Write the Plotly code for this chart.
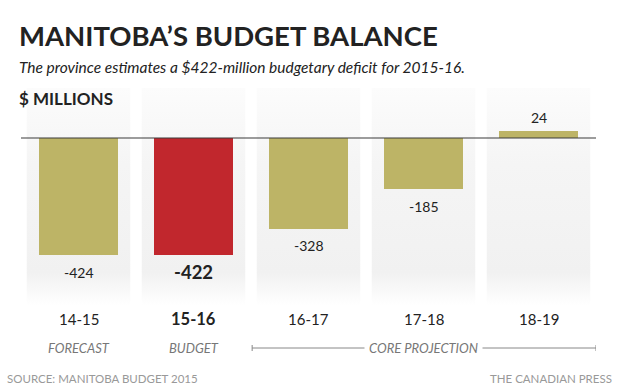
import plotly.graph_objects as go

categories = ["14-15", "15-16", "16-17", "17-18", "18-19"]
values = [-424, -422, -328, -185, 24]
phases = ["FORECAST", "BUDGET"]
projection_label = "CORE PROJECTION"
highlight = 1  # index of budget year

OLIVE = "#bdb466"
RED = "#c1272d"
FONT = "Lato"

W, H = 620, 388
ML, MR, MT, MB = 21, 24, 88, 78
PW, PH = W - ML - MR, H - MT - MB
SCALE = 0.277  # px per $M
y_top = (138 - MT) / SCALE
y_bot = -(MT + PH - 138) / SCALE

def py(px):
    return (MT + PH - px) / PH

def px_x(px):
    return (px - ML) / PW

fig = go.Figure()

# background column panels with vertical gradient
xs, ys = [], []
panel_bottom = -(305 - 138) / SCALE
for i in range(len(categories)):
    xs += [i - 0.45, i + 0.45, i + 0.45, i - 0.45, i - 0.45, None]
    ys += [y_top, y_top, panel_bottom, panel_bottom, y_top, None]
fig.add_trace(go.Scatter(
    x=xs, y=ys, mode="lines", fill="toself", line=dict(width=0),
    fillgradient=dict(type="vertical", start=y_top, stop=panel_bottom,
                      colorscale=[[0, "#fcfcfc"], [0.35, "#f5f5f5"], [0.85, "#f1f1f1"], [1, "#ffffff"]]),
    hoverinfo="skip", showlegend=False))

colors = [RED if i == highlight else OLIVE for i in range(len(values))]
fig.add_trace(go.Bar(x=list(range(len(values))), y=values, width=0.68,
                     xaxis="x2", yaxis="y2",
                     marker=dict(color=colors, line=dict(width=0)),
                     hoverinfo="skip", showlegend=False))

# zero line
fig.add_shape(type="line", xref="x", yref="y", x0=-0.5, x1=len(categories) - 0.5,
              y0=0, y1=0, line=dict(color="#3a3a3a", width=1.2))

ann = []
for i, v in enumerate(values):
    bold = i == highlight
    txt = f"<b>{v}</b>" if bold else f"{v}"
    ann.append(dict(x=i, y=v, xref="x", yref="y", text=txt, showarrow=False,
                    yanchor="middle", yshift=(-17 if v < 0 else 14),
                    font=dict(family=FONT, size=18.5 if bold else 14, color="#222")))
for i, c in enumerate(categories):
    bold = i == highlight
    ann.append(dict(x=i, y=py(319), xref="x", yref="paper",
                    text=f"<b>{c}</b>" if bold else c, showarrow=False, yanchor="middle",
                    font=dict(family=FONT, size=16.5 if bold else 15, color="#222")))
for i, p in enumerate(phases):
    ann.append(dict(x=i, y=py(348), xref="x", yref="paper", text=f"<i>{p}</i>",
                    showarrow=False, yanchor="middle",
                    font=dict(family=FONT, size=13, color="#777")))
# core projection bracket
x0b, x1b = 1.51, 4.5
fig.add_shape(type="line", xref="x", yref="paper", x0=x0b, x1=x1b, y0=py(348), y1=py(348),
              line=dict(color="#888", width=1))
for xb in (x0b, x1b):
    fig.add_shape(type="line", xref="x", yref="paper", x0=xb, x1=xb, y0=py(345), y1=py(351),
                  line=dict(color="#888", width=1))
ann.append(dict(x=3, y=py(348), xref="x", yref="paper", text=f"<i>{projection_label}</i>",
                showarrow=False, yanchor="middle", bgcolor="white", borderpad=4,
                font=dict(family=FONT, size=13, color="#777")))

# titles
ann.append(dict(x=px_x(17), y=py(35), xref="paper", yref="paper", xanchor="left", yanchor="middle",
                text="<b>MANITOBA’S BUDGET BALANCE</b>", showarrow=False,
                font=dict(family=FONT, size=27.5, color="#222")))
ann.append(dict(x=px_x(17), y=py(67), xref="paper", yref="paper", xanchor="left", yanchor="middle",
                text="<i>The province estimates a $422-million budgetary deficit for 2015-16.</i>",
                showarrow=False, font=dict(family=FONT, size=15.5, color="#222")))
ann.append(dict(x=px_x(17), y=py(98), xref="paper", yref="paper", xanchor="left", yanchor="middle",
                text="<b>$ MILLIONS</b>", showarrow=False,
                font=dict(family=FONT, size=17, color="#222")))
ann.append(dict(x=px_x(5), y=py(378), xref="paper", yref="paper", xanchor="left", yanchor="middle",
                text="SOURCE: MANITOBA BUDGET 2015", showarrow=False,
                font=dict(family=FONT, size=11.5, color="#999")))
ann.append(dict(x=px_x(614), y=py(378), xref="paper", yref="paper", xanchor="right", yanchor="middle",
                text="THE CANADIAN PRESS", showarrow=False,
                font=dict(family=FONT, size=11.5, color="#999")))

xr = [-0.5, len(categories) - 0.5]
yr = [y_bot, y_top]
fig.update_layout(
    width=W, height=H, margin=dict(l=ML, r=MR, t=MT, b=MB),
    paper_bgcolor="white", plot_bgcolor="white",
    xaxis=dict(range=xr, visible=False, fixedrange=True),
    yaxis=dict(range=yr, visible=False, fixedrange=True),
    xaxis2=dict(range=xr, visible=False, fixedrange=True, overlaying="x"),
    yaxis2=dict(range=yr, visible=False, fixedrange=True, overlaying="y"),
    annotations=ann, bargap=0, showlegend=False,
)
fig.write_html("out.html", config={"displayModeBar": False},
               post_script="document.body.style.margin='0';document.body.style.padding='0';")
